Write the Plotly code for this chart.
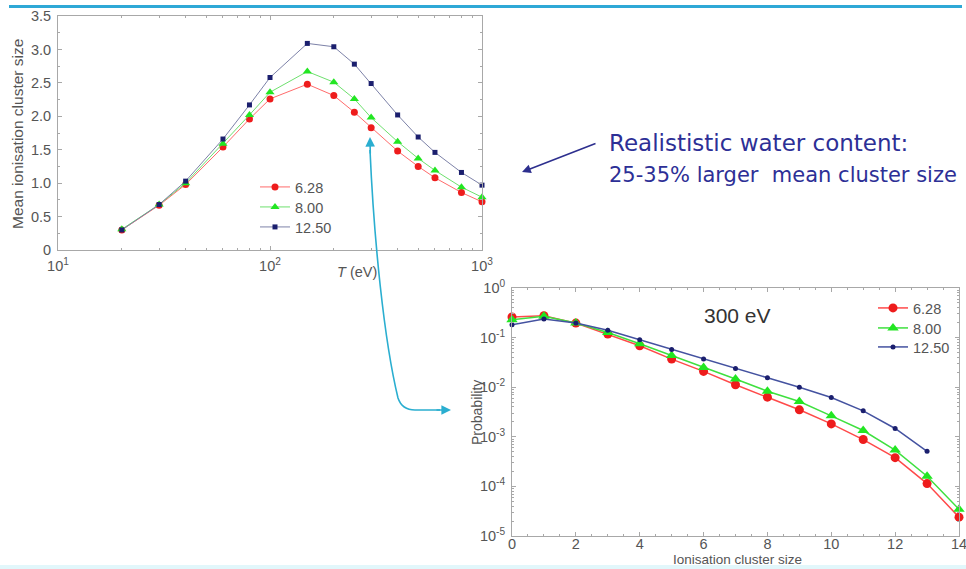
import plotly.graph_objects as go

W, H = 966, 569

def px(x):
    return x / W

def py(y):
    return 1 - y / H

# ---------------- data ----------------
series_names = ["6.28", "8.00", "12.50"]

energy_eV = [20, 30, 40, 60, 80, 100, 150, 200, 250, 300, 400, 500, 600, 800, 1000]
mean_628 = [0.30, 0.67, 0.98, 1.54, 1.96, 2.26, 2.48, 2.31, 2.06, 1.83, 1.48, 1.25, 1.08, 0.86, 0.72]
mean_800 = [0.31, 0.68, 1.00, 1.59, 2.02, 2.36, 2.67, 2.51, 2.26, 1.98, 1.62, 1.37, 1.19, 0.94, 0.79]
mean_1250 = [0.30, 0.68, 1.03, 1.66, 2.17, 2.58, 3.09, 3.04, 2.78, 2.49, 2.02, 1.69, 1.46, 1.16, 0.97]

cluster_size = list(range(15))
prob_628 = [0.26, 0.276, 0.196, 0.118, 0.0686, 0.0369, 0.0208, 0.0112, 0.0063, 0.0035,
            0.00182, 0.00088, 0.00038, 0.000114, 2.4e-5]
prob_800 = [0.23, 0.268, 0.196, 0.127, 0.075, 0.0437, 0.025, 0.0146, 0.0083, 0.00515,
            0.00265, 0.00134, 0.00054, 0.00016, 3.45e-5]
cluster_size_1250 = list(range(14))
prob_1250 = [0.182, 0.237, 0.196, 0.14, 0.0906, 0.0578, 0.0369, 0.0239, 0.0155, 0.0100,
             0.0062, 0.00334, 0.00147, 0.00051]

top_y_ticks = [0, 0.5, 1.0, 1.5, 2.0, 2.5, 3.0, 3.5]
top_y_labels = ["0", "0.5", "1.0", "1.5", "2.0", "2.5", "3.0", "3.5"]
top_x_ticks = [10, 100, 1000]
top_x_labels = ["10<sup>1</sup>", "10<sup>2</sup>", "10<sup>3</sup>"]
bot_y_ticks = [1e-5, 1e-4, 1e-3, 1e-2, 1e-1, 1]
bot_y_labels = ["10<sup>-5</sup>", "10<sup>-4</sup>", "10<sup>-3</sup>",
                "10<sup>-2</sup>", "10<sup>-1</sup>", "10<sup>0</sup>"]
bot_x_ticks = [0, 2, 4, 6, 8, 10, 12, 14]

# ---------------- styles ----------------
marker_colors = ["#ee1c1c", "#22e622", "#1b1f6e"]
top_line_colors = ["#ff6b6b", "#6ee06e", "#7d82a8"]
bot_line_colors = ["#ff4a4a", "#3fe03f", "#4452a0"]
symbols = ["circle", "triangle-up", "square"]
top_sizes = [7, 8, 5]
bot_symbols = ["circle", "triangle-up", "circle"]
bot_sizes = [9, 10, 5]
top_legend_rows = [187, 207, 227]      # pixel rows of legend entries (layout)
bot_legend_rows = [308, 328, 347]

FONT = "Liberation Sans, Arial, sans-serif"
AXC = "#a8a8a8"
TXT = "#555555"

fig = go.Figure()
legend_layout = {}

for i, (name, ys) in enumerate(zip(series_names, [mean_628, mean_800, mean_1250])):
    lg = "legend" if i == 0 else "legend%d" % (i + 1)
    fig.add_trace(go.Scatter(
        x=energy_eV, y=ys, name=name, mode="lines+markers",
        line=dict(color=top_line_colors[i], width=1),
        marker=dict(color=marker_colors[i], symbol=symbols[i], size=top_sizes[i]),
        xaxis="x", yaxis="y", legend=lg, cliponaxis=False))
    legend_layout[lg] = dict(x=px(255), y=py(top_legend_rows[i]), xanchor="left",
                             yanchor="middle", bgcolor="rgba(0,0,0,0)",
                             font=dict(family=FONT, size=14.5, color=TXT), itemwidth=30)

bot_x = [cluster_size, cluster_size, cluster_size_1250]
for i, (name, ys) in enumerate(zip(series_names, [prob_628, prob_800, prob_1250])):
    lg = "legend%d" % (i + 4)
    fig.add_trace(go.Scatter(
        x=bot_x[i], y=ys, name=name, mode="lines+markers",
        line=dict(color=bot_line_colors[i], width=1.5),
        marker=dict(color=marker_colors[i], symbol=bot_symbols[i], size=bot_sizes[i]),
        xaxis="x2", yaxis="y2", legend=lg, cliponaxis=False))
    legend_layout[lg] = dict(x=px(873), y=py(bot_legend_rows[i]), xanchor="left",
                             yanchor="middle", bgcolor="rgba(0,0,0,0)",
                             font=dict(family=FONT, size=14.5, color=TXT), itemwidth=30)

axis_common = dict(showline=True, linecolor=AXC, linewidth=1, mirror="allticks",
                   ticks="inside", tickcolor=AXC, ticklen=4, showgrid=False,
                   zeroline=False, ticklabeloverflow="allow",
                   tickfont=dict(family=FONT, size=14.5, color=TXT))

fig.update_layout(
    width=W, height=H, autosize=False,
    margin=dict(l=0, r=0, t=0, b=0, autoexpand=False),
    paper_bgcolor="white", plot_bgcolor="white",
    font=dict(family=FONT, color=TXT),
    xaxis=dict(type="log", range=[1, 3], domain=[px(58), px(482)], anchor="y",
               tickmode="array", tickvals=top_x_ticks, ticktext=top_x_labels,
               ticklabelstandoff=3,
               minor=dict(ticks="inside", ticklen=2, tickcolor=AXC, dtick="D1"),
               **axis_common),
    yaxis=dict(range=[0, 3.5], domain=[py(250), py(16)], anchor="x",
               tickmode="array", tickvals=top_y_ticks, ticktext=top_y_labels,
               ticklabelstandoff=3,
               minor=dict(ticks="inside", ticklen=2, tickcolor=AXC, dtick=0.25),
               **axis_common),
    xaxis2=dict(range=[0, 14], domain=[px(512), px(959)], anchor="y2",
                tickmode="array", tickvals=bot_x_ticks, ticklabelstandoff=-5,
                minor=dict(ticks="inside", ticklen=2, tickcolor=AXC, dtick=0.5),
                **axis_common),
    yaxis2=dict(type="log", range=[-5, 0], domain=[py(536), py(288)], anchor="x2",
                tickmode="array", tickvals=bot_y_ticks, ticktext=bot_y_labels,
                ticklabelstandoff=3,
                minor=dict(ticks="inside", ticklen=2, tickcolor=AXC, dtick="D1"),
                **axis_common),
    showlegend=True,
    **legend_layout,
)

# ---------------- decorations ----------------
shapes = []
shapes.append(dict(type="rect", xref="paper", yref="paper",
                   x0=px(9), x1=px(962), y0=py(8), y1=py(5),
                   fillcolor="#2ea8d6", line=dict(width=0), layer="above"))
shapes.append(dict(type="rect", xref="paper", yref="paper",
                   x0=0, x1=1, y0=0, y1=py(565),
                   fillcolor="#e2f7fb", line=dict(width=0), layer="below"))

pts = "M {:.5f},{:.5f} C {:.5f},{:.5f} {:.5f},{:.5f} {:.5f},{:.5f} Q {:.5f},{:.5f} {:.5f},{:.5f} L {:.5f},{:.5f}".format(
    px(370), py(150), px(374), py(240), px(384), py(340), px(398), py(398),
    px(402), py(410), px(415), py(410), px(440), py(410))
shapes.append(dict(type="path", xref="paper", yref="paper", path=pts,
                   line=dict(color="#2aaed0", width=1.6)))
fig.update_layout(shapes=shapes)


def arrow(hx, hy, tx, ty, color, width=1.6, size=1.2):
    return dict(xref="paper", yref="paper", x=px(hx), y=py(hy),
                ax=tx - hx, ay=ty - hy, axref="pixel", ayref="pixel",
                showarrow=True, arrowhead=2, arrowsize=size, arrowwidth=width,
                arrowcolor=color, text="")


annotations = []
CY = "#2aaed0"
annotations.append(arrow(370, 137, 370.3, 155, CY))
annotations.append(arrow(451, 410, 435, 410, CY))
annotations.append(arrow(522, 172, 597, 143, "#2d2f8e", 1.6, 1.1))

TXTB = "#2d2f96"
SLIDE_FONT = "DejaVu Sans, sans-serif"
annotations.append(dict(xref="paper", yref="paper", x=px(607), y=py(143),
                        xanchor="left", yanchor="middle", showarrow=False,
                        text="Realististic water content:",
                        font=dict(family=SLIDE_FONT, size=23, color=TXTB)))
annotations.append(dict(xref="paper", yref="paper", x=px(607), y=py(175),
                        xanchor="left", yanchor="middle", showarrow=False,
                        text="25-35% larger\u00a0 mean cluster size",
                        font=dict(family=SLIDE_FONT, size=21, color=TXTB)))
# axis titles
annotations.append(dict(xref="paper", yref="paper", x=px(18), y=py(134),
                        xanchor="center", yanchor="middle", showarrow=False, textangle=-90,
                        text="Mean ionisation cluster size",
                        font=dict(family=FONT, size=15.5, color=TXT)))
annotations.append(dict(xref="paper", yref="paper", x=px(357), y=py(272),
                        xanchor="center", yanchor="middle", showarrow=False,
                        text="<i>T</i> (eV)", font=dict(family=FONT, size=14.5, color=TXT)))
annotations.append(dict(xref="paper", yref="paper", x=px(477), y=py(413),
                        xanchor="center", yanchor="middle", showarrow=False, textangle=-90,
                        text="Probability", font=dict(family=FONT, size=14, color=TXT)))
annotations.append(dict(xref="paper", yref="paper", x=px(737), y=py(569),
                        xanchor="center", yanchor="bottom", showarrow=False,
                        text="Ionisation cluster size", font=dict(family=FONT, size=13.5, color=TXT)))
annotations.append(dict(xref="paper", yref="paper", x=px(737), y=py(315),
                        xanchor="center", yanchor="middle", showarrow=False,
                        text="300 eV", font=dict(family=FONT, size=21, color="#333333")))
fig.update_layout(annotations=annotations)

fig.write_html("out.html")
